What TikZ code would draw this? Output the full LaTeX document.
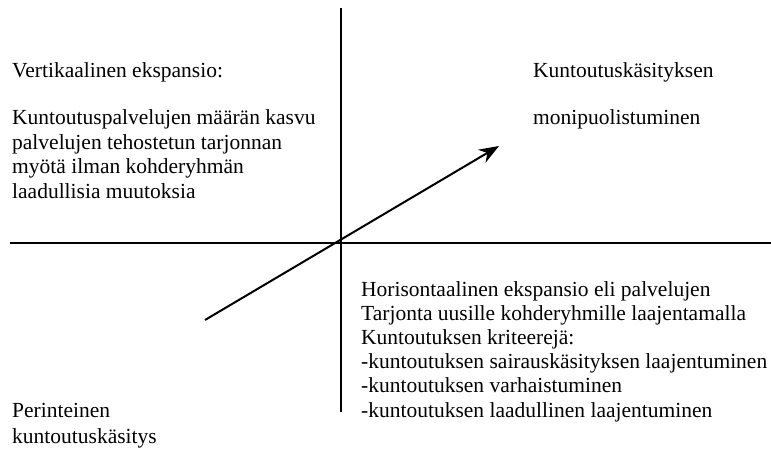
\documentclass[tikz,border=0pt]{standalone}
\usepackage{fontspec}
\setmainfont{Liberation Serif}
\usetikzlibrary{arrows.meta}
\begin{document}
\begin{tikzpicture}[x=1pt,y=-1pt,
  txt/.style={anchor=base west,inner sep=0pt,font=\fontsize{21.5}{24}\selectfont},
  axis/.style={line width=2pt,black},
  dir/.style={line width=2pt,black,-{Stealth[length=20pt,width=15pt]}}]
\useasboundingbox (0,0) rectangle (771,453);
% axes
\coordinate (vtop) at (341,8);
\coordinate (vbot) at (341,412);
\coordinate (hl) at (10,243);
\coordinate (hr) at (771,243);
\draw[axis] (vtop) -- (vbot);
\draw[axis] (hl) -- (hr);
% arrow
\coordinate (as) at (205,320);
\coordinate (ae) at (499,146);
\draw[dir] (as) -- (ae);
% upper left
\node[txt] (v1) at (12,77) {Vertikaalinen ekspansio:};
\node[txt] (v2) at (12,124) {Kuntoutuspalvelujen määrän kasvu};
\node[txt] (v3) at (12,149) {palvelujen tehostetun tarjonnan};
\node[txt] (v4) at (12,173) {myötä ilman kohderyhmän};
\node[txt] (v5) at (12,198) {laadullisia muutoksia};
% upper right
\node[txt] (k1) at (533,77) {Kuntoutuskäsityksen};
\node[txt] (k2) at (533,124) {monipuolistuminen};
% lower right
\node[txt] (h1) at (361,296) {Horisontaalinen ekspansio eli palvelujen};
\node[txt] (h2) at (361,320) {Tarjonta uusille kohderyhmille laajentamalla};
\node[txt] (h3) at (361,344) {Kuntoutuksen kriteerejä:};
\node[txt] (h4) at (361,368) {-kuntoutuksen sairauskäsityksen laajentuminen};
\node[txt] (h5) at (361,392) {-kuntoutuksen varhaistuminen};
\node[txt] (h6) at (361,417) {-kuntoutuksen laadullinen laajentuminen};
% lower left
\node[txt] (p1) at (12,417) {Perinteinen};
\node[txt] (p2) at (12,443) {kuntoutuskäsitys};
\end{tikzpicture}
\end{document}
